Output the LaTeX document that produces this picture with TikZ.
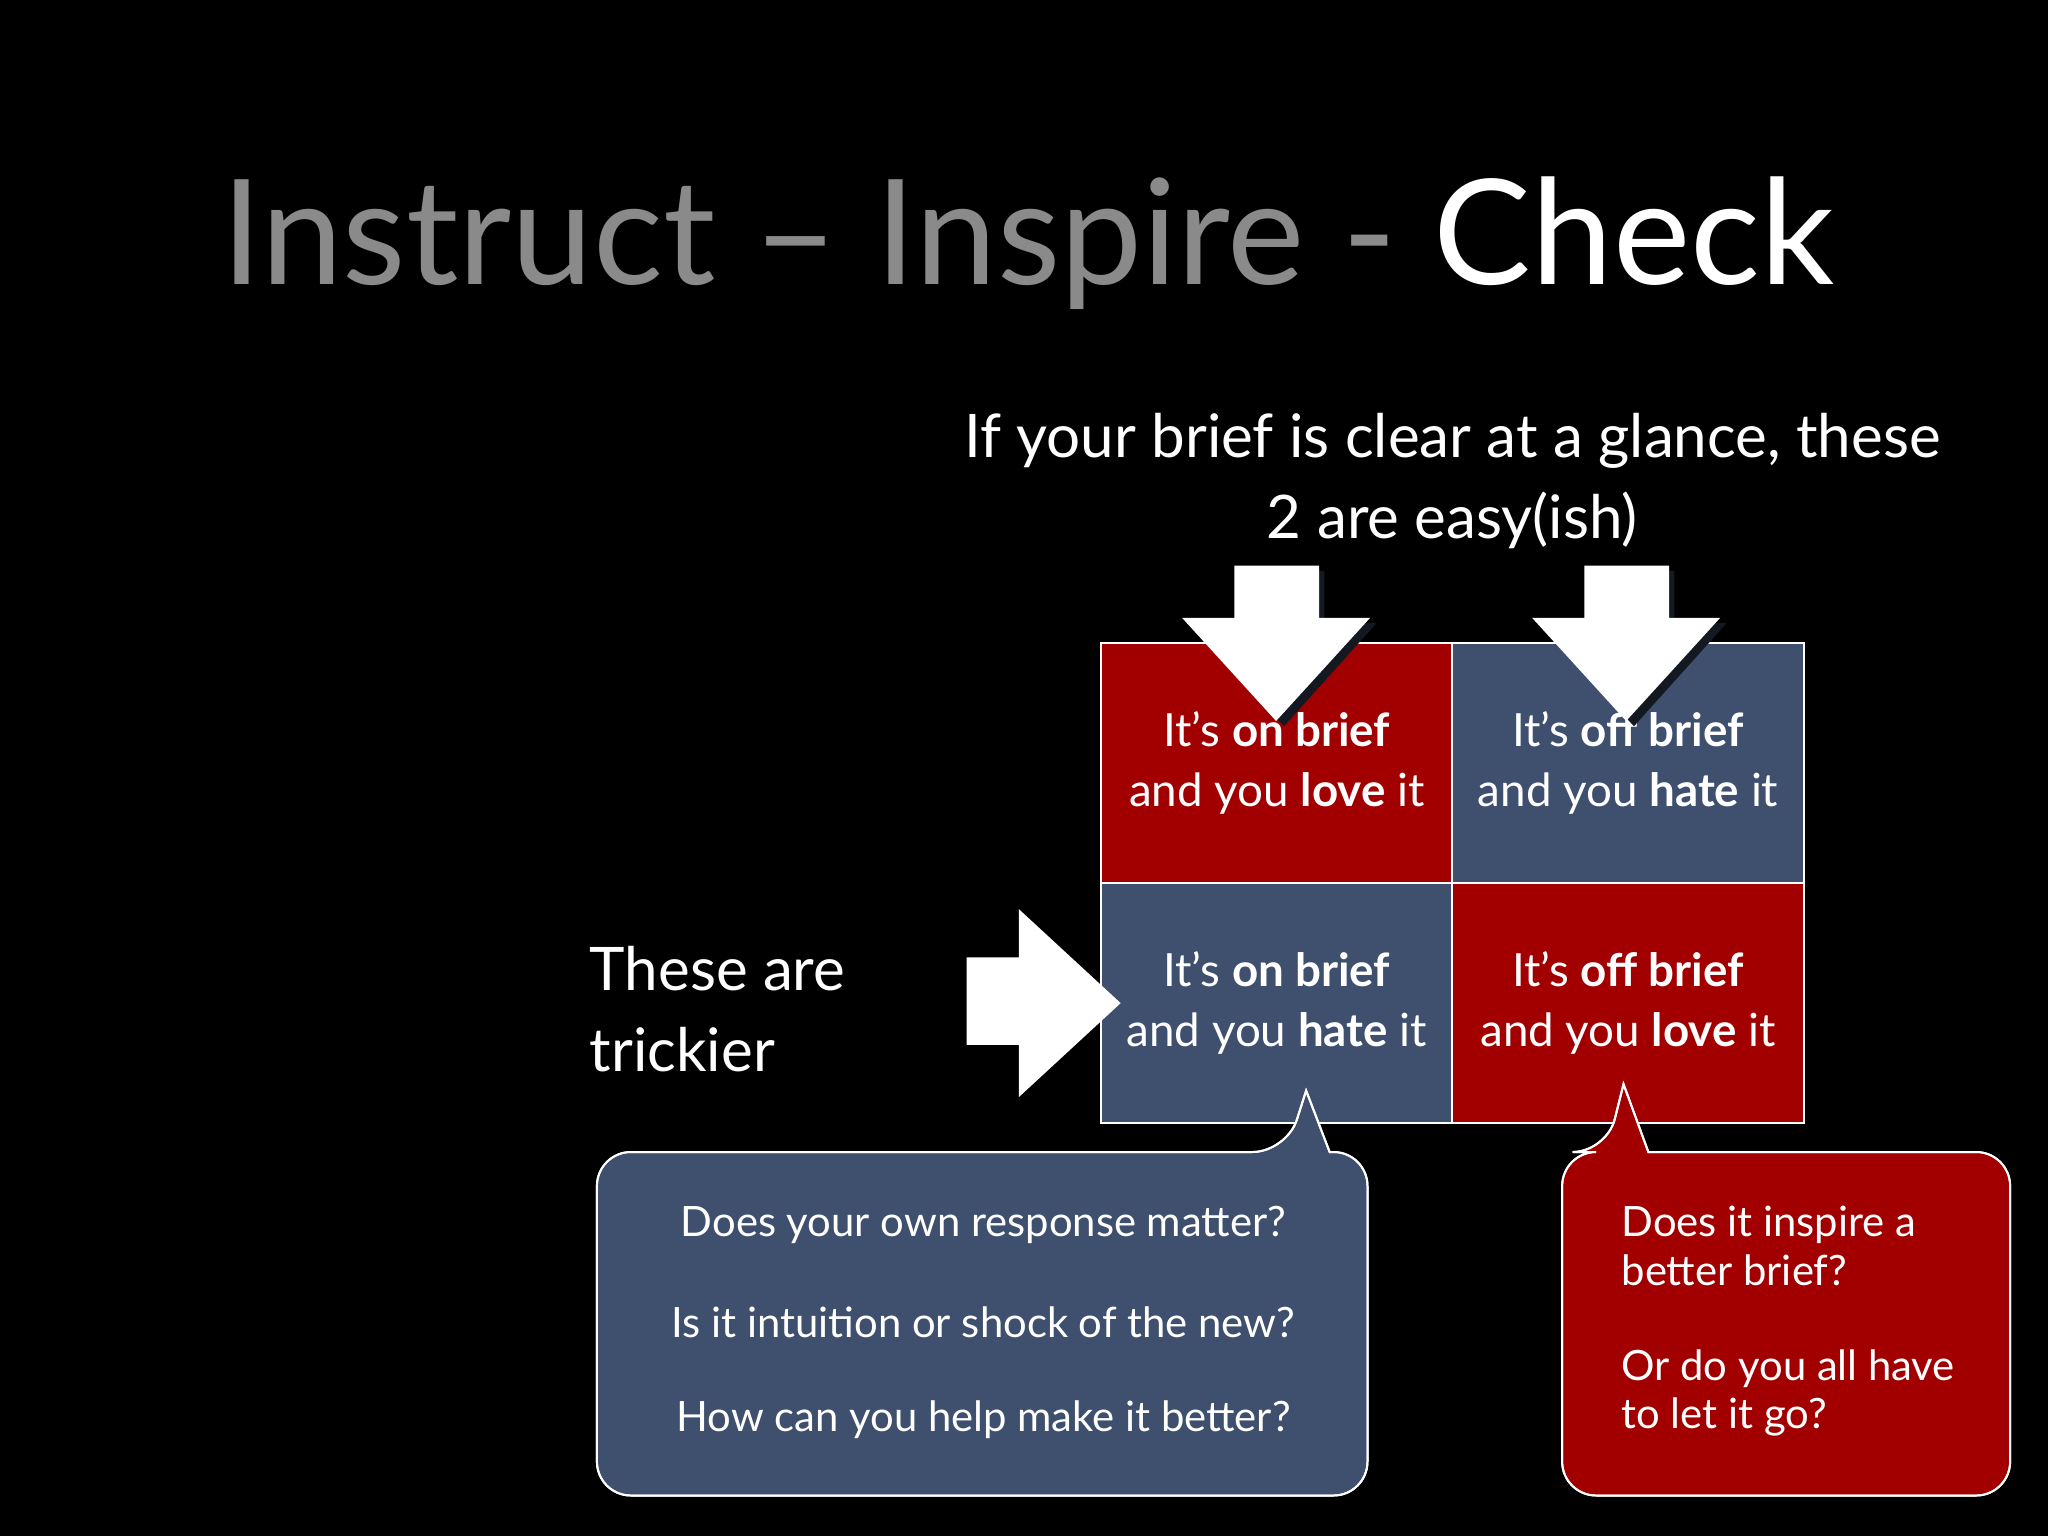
\documentclass[tikz,border=0pt]{standalone}
\usepackage{fontspec}
\setmainfont{Lato}
\definecolor{cred}{HTML}{A20000}
\definecolor{cblue}{HTML}{3F4F6E}
\definecolor{tgray}{HTML}{8A8A8A}
\tikzset{cell/.style={draw=white,line width=1.5pt,minimum width=269pt,minimum height=184pt,inner sep=0pt,text=white,align=center,font=\fontsize{35}{46}\selectfont},
bubble/.style={draw=white,line width=1.5pt},
arr/.style={fill=white},
shad/.style={fill=black!70!cblue},
big/.style={text=white,font=\fontsize{46}{62}\selectfont}}
\begin{document}
\begin{tikzpicture}[x=1pt,y=-1pt]
\fill[black] (0,0) rectangle (1568,1176);
\useasboundingbox (0,0) rectangle (1568,1176);
\node[anchor=base,font=\fontsize{112}{120}\selectfont] (title) at (787,218) {\textcolor{tgray}{Instruct – Inspire -} \textcolor{white}{Check}};
\node[big,anchor=base] (h1) at (1112,350) {If your brief is clear at a glance, these};
\node[big,anchor=base] (h2) at (1112,412) {2 are easy(ish)};
\node[cell,fill=cred] (c1) at (977.5,584) {It’s \textbf{on brief}\\and you \textbf{love} it};
\node[cell,fill=cblue] (c2) at (1246.5,584) {It’s \textbf{off brief}\\and you \textbf{hate} it};
\node[cell,fill=cblue] (c3) at (977.5,768) {It’s \textbf{on brief}\\and you \textbf{hate} it};
\node[cell,fill=cred] (c4) at (1246.5,768) {It’s \textbf{off brief}\\and you \textbf{love} it};
% down arrows
\foreach \cx in {977,1245}{
 \fill[shad] (\cx+5,433+4) -- (\cx+37,433+4) -- (\cx+37,477) -- (\cx+77,477) -- (\cx+6,556) -- (\cx-67,477) -- (\cx-28,477) -- cycle;
 \fill[arr] (\cx-32,433) -- (\cx+33,433) -- (\cx+33,473) -- (\cx+72,473) -- (\cx,552) -- (\cx-72,473) -- (\cx-32,473) -- cycle;
}
\fill[arr] (740,733) -- (780,733) -- (780,696) -- (858,768) -- (780,840) -- (780,800) -- (740,800) -- cycle;
\node[big,anchor=base west] (t1) at (448,758) {These are};
\node[big,anchor=base west] (t2) at (448,820) {trickier};
% callouts
\foreach \d in {fill,draw}{
\path[bubble,\d=cblue,draw=white] [rounded corners=26] (457,1000) |- (985,882) [sharp corners] -- (1000,835) -- (1018,882) [rounded corners=26] -| (1047,1000) |- (457,1145) -- cycle;
\path[bubble,\d=cred,draw=white] [rounded corners=26] (1196,1000) |- (1230,882) [sharp corners] -- (1243,830) -- (1262,882) [rounded corners=26] -| (1539,1000) |- (1196,1145) -- cycle;
}
\foreach \t/\y in {Does your own response matter?/938, Is it intuition or shock of the new?/1012, How can you help make it better?/1087}
 \node[text=white,font=\fontsize{32}{38}\selectfont] at (753,\y) {\t};
\node[anchor=north west,text=white,align=left,font=\fontsize{32}{37}\selectfont] (rt) at (1238,920) {Does it inspire a\\better brief?\\[36pt]Or do you all have\\to let it go?};
\end{tikzpicture}
\end{document}
